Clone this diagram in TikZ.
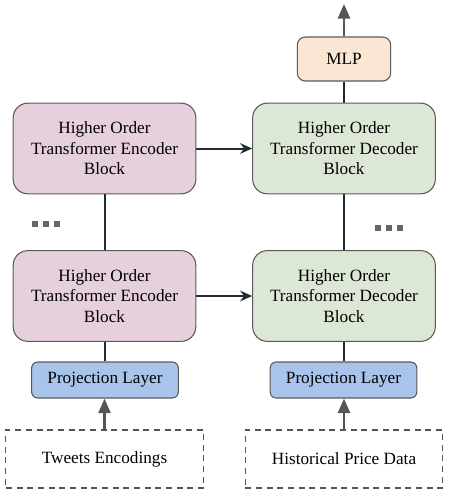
\documentclass[tikz,border=0pt]{standalone}
\usepackage{fontspec}
\setmainfont{Liberation Serif}
\usetikzlibrary{arrows.meta}
\definecolor{encfill}{HTML}{E6D0DE}
\definecolor{decfill}{HTML}{DCE8D5}
\definecolor{mlpfill}{HTML}{FAE6D2}
\definecolor{projfill}{HTML}{A9C4EB}
\definecolor{edgec}{HTML}{5A5A5A}
\definecolor{darkc}{HTML}{1E2D36}
\definecolor{greyc}{HTML}{555555}
\begin{document}
\begin{tikzpicture}[x=0.75pt,y=-0.75pt,
  font=\fontsize{12.9}{15.3}\selectfont,
  block/.style={draw=edgec,line width=0.8pt,rounded corners=11pt,minimum width=137pt,minimum height=68pt,align=center,inner sep=0pt},
  encblock/.style={block,fill=encfill},
  decblock/.style={block,fill=decfill},
  projbox/.style={draw=edgec,line width=0.8pt,fill=projfill,rounded corners=4.5pt,minimum width=110pt,minimum height=27pt,inner sep=0pt},
  mlpbox/.style={draw=edgec,line width=0.8pt,fill=mlpfill,rounded corners=6pt,minimum width=70pt,minimum height=33pt,inner sep=0pt},
  inbox/.style={draw=darkc!80,dash pattern=on 4.5pt off 3.5pt,line width=0.8pt,minimum width=148pt,minimum height=43.5pt,inner sep=0pt},
  link/.style={draw=darkc,line width=1.5pt},
  harrow/.style={link,-{Stealth[length=9pt,width=8pt,inset=3pt]}},
  garrow/.style={draw=greyc,line width=2pt,-{Triangle[length=11pt,width=9pt]}},
  dot/.style={fill=greyc!90,minimum size=4pt,inner sep=0pt}
]
\useasboundingbox (0,0) rectangle (450,500);

\node[encblock] (e2) at (104.5,148.5) {Higher Order\\Transformer Encoder\\Block};
\node[decblock] (d2) at (344,148.5) {Higher Order\\Transformer Decoder\\Block};
\node[encblock] (e1) at (104.5,296) {Higher Order\\Transformer Encoder\\Block};
\node[decblock] (d1) at (344,296) {Higher Order\\Transformer Decoder\\Block};
\node[mlpbox] (mlp) at (344,59) {MLP};
\node[projbox] (p1) at (105,380) {Projection Layer};
\node[projbox] (p2) at (343.5,380) {Projection Layer};
\node[inbox] (t1) at (104.5,459) {Tweets Encodings};
\node[inbox] (t2) at (344,459) {Historical Price Data};
\coordinate (out) at (344,4);

\draw[link] (e2.south) -- (e1.north);
\draw[link] (d2.south) -- (d1.north);
\draw[link] (e1.south) -- (e1.south |- p1.north);
\draw[link] (d1.south) -- (d1.south |- p2.north);
\draw[link] (mlp.south) -- (d2.north);
\draw[harrow] (e2.east) -- (d2.west);
\draw[harrow] (e1.east) -- (d1.west);
\draw[garrow] (t1.north) -- (t1.north |- p1.south);
\draw[garrow] (t2.north) -- (t2.north |- p2.south);
\draw[garrow] (mlp.north) -- (out);

\node[dot] (a1) at (35,224) {};
\node[dot] (a2) at (46,224) {};
\node[dot] (a3) at (57,224) {};
\node[dot] (b1) at (378,228) {};
\node[dot] (b2) at (389,228) {};
\node[dot] (b3) at (400,228) {};
\end{tikzpicture}
\end{document}
